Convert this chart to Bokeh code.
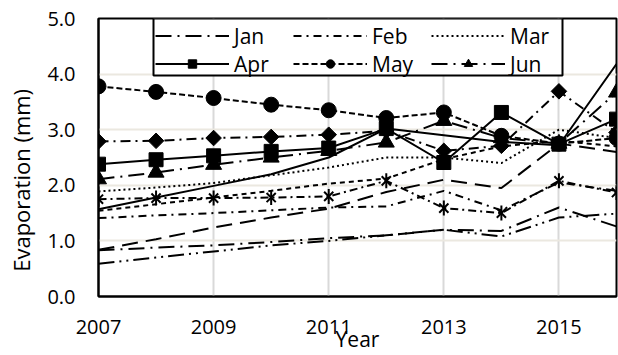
import math
from bokeh.plotting import figure
from bokeh.models import (Range1d, FixedTicker, Legend, LegendItem, PrintfTickFormatter,
                          BoxAnnotation)
from bokeh.embed import file_html
from bokeh.resources import INLINE

years = [2007, 2008, 2009, 2010, 2011, 2012, 2013, 2014, 2015, 2016]
jan = [0.83, 0.88, 0.92, 0.98, 1.05, 1.10, 1.20, 1.18, 1.60, 1.26]
feb = [1.41, 1.46, 1.50, 1.55, 1.60, 1.62, 1.90, 1.55, 2.05, 1.90]
mar = [1.89, 1.96, 2.04, 2.18, 2.32, 2.50, 2.50, 2.40, 3.00, 2.85]
apr = [2.38, 2.46, 2.53, 2.61, 2.67, 3.02, 2.41, 3.31, 2.74, 3.19]
may = [3.78, 3.68, 3.57, 3.45, 3.35, 3.21, 3.31, 2.89, 2.75, 2.85]
jun = [2.11, 2.23, 2.37, 2.50, 2.62, 2.77, 3.16, 2.85, 2.75, 3.67]
jul = [2.79, 2.80, 2.85, 2.87, 2.91, 2.98, 2.62, 2.71, 3.69, 2.95]
aug = [1.75, 1.77, 1.77, 1.78, 1.80, 2.08, 1.59, 1.50, 2.08, 1.87]
sep = [1.57, 1.78, 1.99, 2.20, 2.50, 3.02, 2.90, 2.78, 2.72, 4.18]
oct_ = [1.54, 1.66, 1.78, 1.90, 2.03, 2.12, 2.47, 2.70, 2.80, 2.70]
nov = [0.84, 1.03, 1.24, 1.42, 1.58, 1.88, 2.10, 1.95, 2.75, 2.60]
dec = [0.59, 0.70, 0.81, 0.92, 1.00, 1.10, 1.20, 1.08, 1.42, 1.49]
months = ["Jan", "Feb", "Mar", "Apr", "May", "Jun",
          "Jul", "Aug", "Sep", "Oct", "Nov", "Dec"]
x_ticks = [2007, 2009, 2011, 2013, 2015]
y_ticks = [0, 1, 2, 3, 4, 5]

series = [jan, feb, mar, apr, may, jun, jul, aug, sep, oct_, nov, dec]
dashes = ["16 6 2 6", "8 5 2 5", "2 3", "solid", "6 3", "16 6 2 6",
          "10 5 2 5", "8 4 2 4", "solid", "5 4", "16 8", "16 5 2 5 2 5"]
markers = [None, None, None, "square", "circle", "triangle",
           "diamond", "star", None, None, None, None]

FONT = "Open Sans"
W, H = 618, 355
ML, MR, MT, MB = 98, 2, 18, 59
FRAME_W = W - ML - MR
FRAME_H = H - MT - MB

p = figure(width=W, height=H, output_backend="svg", toolbar_location=None,
           x_range=Range1d(2007, 2016), y_range=Range1d(0, 5),
           min_border_left=ML, min_border_right=MR, min_border_top=MT,
           min_border_bottom=MB, background_fill_color="white")

items = []
for name, vals, dash, mk in zip(months, series, dashes, markers):
    rs = []
    rs.append(p.line(years, vals, line_color="black", line_width=2, line_dash=dash))
    if mk == "square":
        rs.append(p.scatter(years, vals, marker="square", size=14, color="black"))
    elif mk == "circle":
        rs.append(p.scatter(years, vals, marker="circle", size=15, color="black"))
    elif mk == "triangle":
        rs.append(p.scatter(years, vals, marker="triangle", size=16, color="black"))
    elif mk == "diamond":
        rs.append(p.scatter(years, vals, marker="square", size=11, angle=math.pi / 4, color="black"))
    elif mk == "star":
        rs.append(p.scatter(years, vals, marker="x", size=13, line_width=2, color="black"))
        rs.append(p.scatter(years, vals, marker="dash", size=15, angle=math.pi / 2, line_width=2, color="black"))
    if name in months[:6]:
        items.append(LegendItem(label=name, renderers=rs))

# legend frame (box drawn under the legend entries)
box = BoxAnnotation(left=55, right=464, top=FRAME_H, bottom=FRAME_H - 57,
                    left_units="screen", right_units="screen",
                    top_units="screen", bottom_units="screen",
                    fill_color="white", fill_alpha=1.0,
                    line_color="black", line_width=2, line_alpha=1.0)
p.add_layout(box)

legend = Legend(items=items, location=(57, FRAME_H - 59.75), orientation="horizontal", nrows=2,
                glyph_width=74, glyph_height=21, label_width=59, label_height=21,
                label_standoff=5, spacing=0, padding=4, margin=0,
                border_line_color=None, background_fill_alpha=0.0,
                label_text_font=FONT, label_text_font_size="21px",
                label_text_color="black")
p.add_layout(legend, "center")

p.xgrid.ticker = FixedTicker(ticks=x_ticks)
p.xgrid.grid_line_color = "#d9d9d9"
p.xgrid.grid_line_width = 2
p.ygrid.ticker = FixedTicker(ticks=y_ticks[1:-1])
p.ygrid.grid_line_color = "#ebe8e0"
p.ygrid.grid_line_width = 2

for ax in (p.xaxis[0], p.yaxis[0]):
    ax.axis_line_color = "black"
    ax.axis_line_width = 2
    ax.major_tick_line_color = None
    ax.minor_tick_line_color = None
    ax.major_tick_out = 0
    ax.major_tick_in = 0
    ax.minor_tick_out = 0
    ax.minor_tick_in = 0
    ax.major_label_text_font = FONT
    ax.major_label_text_font_size = "20px"
    ax.major_label_text_color = "black"
    ax.axis_label_text_font = FONT
    ax.axis_label_text_font_style = "normal"
    ax.axis_label_text_color = "black"

p.xaxis.ticker = FixedTicker(ticks=x_ticks)
p.xaxis.formatter = PrintfTickFormatter(format="%d")
p.xaxis.axis_label = "Year"
p.xaxis.axis_label_text_font_size = "21px"
p.xaxis.major_label_standoff = 23
p.xaxis.axis_label_standoff = -12

p.yaxis.ticker = FixedTicker(ticks=y_ticks)
p.yaxis.formatter = PrintfTickFormatter(format="%.1f")
# trailing spaces move the (centred) title a little towards the bottom, as in the original
p.yaxis.axis_label = "Evaporation (mm)" + " " * 8
p.yaxis.axis_label_text_font_size = "22px"
p.yaxis.major_label_standoff = 23
p.yaxis.axis_label_standoff = 8

p.outline_line_color = "black"
p.outline_line_width = 2

open("out.html", "w").write(file_html(p, INLINE))
